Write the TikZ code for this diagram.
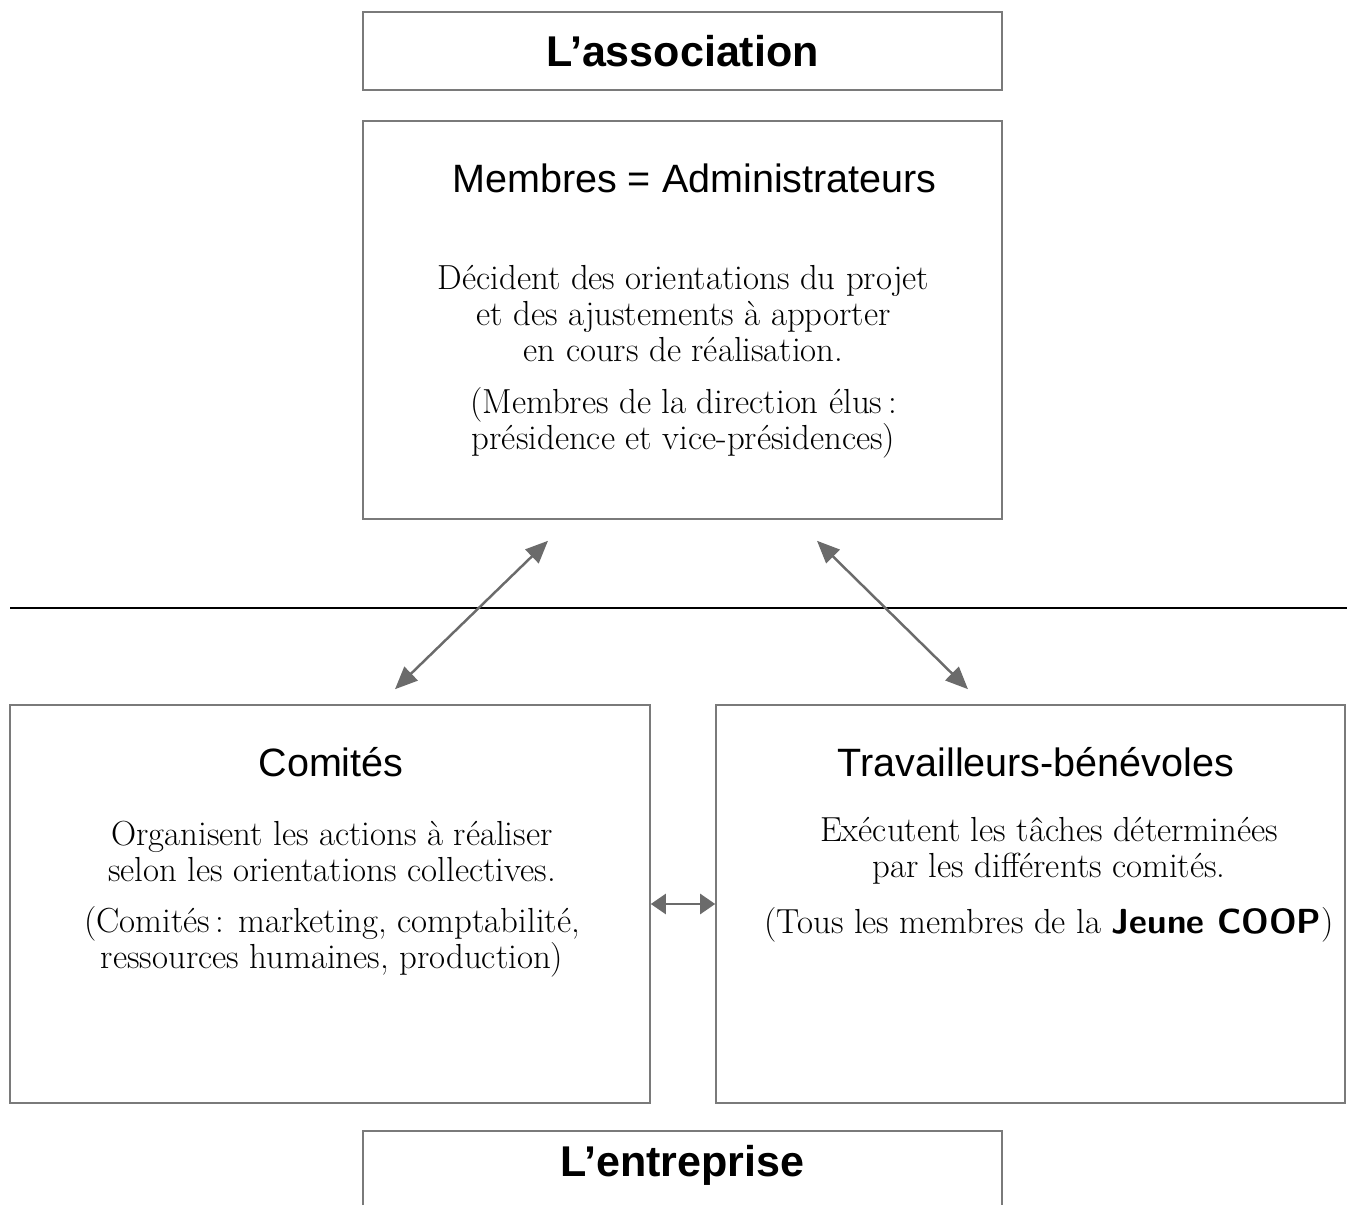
\documentclass[tikz,border=0pt]{standalone}
\usepackage{fontspec}
\newfontfamily\headfont{Liberation Sans}
\usetikzlibrary{arrows.meta,positioning,calc}
\definecolor{boxgray}{HTML}{7A7A7A}
\definecolor{arrowgray}{HTML}{6B6B6B}

\begin{document}
\begin{tikzpicture}[
  frame/.style={draw=boxgray, line width=0.9pt, minimum width=12.78cm, inner sep=0pt},
  title/.style={font=\headfont\fontsize{22.5}{26}\selectfont},
  bigtitle/.style={font=\headfont\bfseries\fontsize{24.5}{28}\selectfont},
  body/.style={align=center, font=\fontsize{19.8}{20.5}\selectfont},
  link/.style={draw=arrowgray, line width=1.4pt,
               {Triangle[length=0.45cm,width=0.38cm]}-{Triangle[length=0.45cm,width=0.38cm]}},
  shortlink/.style={draw=arrowgray, line width=1.4pt,
               {Triangle[length=0.3cm,width=0.4cm]}-{Triangle[length=0.3cm,width=0.4cm]}}
]
\useasboundingbox (0,0) rectangle (26.94,24.1);

% association side
\node[frame, bigtitle, minimum height=1.56cm] (assoc) at (13.65,23.08) {L’association};
\node[frame, minimum height=7.96cm] (membres) at (13.65,17.70) {};
\node[title] (membresT) at (13.89,20.54) {Membres = Administrateurs};
\node[body] (membresA) at (13.67,17.82) {
  Décident des orientations du projet\\
  et des ajustements à apporter\\
  en cours de réalisation.};
\node[body] (membresB) at (13.67,15.64) {
  (Membres de la direction élus\,:\\
  présidence et vice-présidences)};

% separation line
\coordinate (sepL) at (0.2,11.94);
\coordinate (sepR) at (26.94,11.94);
\draw[line width=1.7pt] (sepL) -- (sepR);

% entreprise side
\node[frame, minimum width=12.8cm, minimum height=7.96cm] (comites) at (6.6,6.02) {};
\node[title] (comitesT) at (6.62,8.86) {Comités};
\node[body] (comitesA) at (6.64,7.08) {
  Organisent les actions à réaliser\\
  selon les orientations collectives.};
\node[body] (comitesB) at (6.64,5.26) {
  (Comités\,: marketing, comptabilité,\\
  ressources humaines, production)};

\node[frame, minimum width=12.58cm, minimum height=7.96cm] (trav) at (20.61,6.02) {};
\node[title] (travT) at (20.72,8.86) {Travailleurs-bénévoles};
\node[body] (travA) at (20.98,7.08) {
  Exécutent les tâches déterminées\\
  par les différents comités.};
\node[body] (travB) at (20.98,5.6) {
  (Tous les membres de la {\sffamily\bfseries Jeune COOP})};

\draw[boxgray, line width=0.9pt] (7.26,0) |- (20.04,1.48) -- (20.04,0);
\node[bigtitle] (entreprise) at (13.65,0.8) {L’entreprise};

% links
\coordinate (mL) at ($(membres.south)+(-2.69,-0.42)$);
\coordinate (mR) at ($(membres.south)+(2.69,-0.42)$);
\coordinate (cT) at ($(comites.north)+(1.3,0.3)$);
\coordinate (tT) at ($(trav.north)+(-1.25,0.3)$);
\draw[link] (mL) -- (cT);
\draw[link] (mR) -- (tT);
\draw[shortlink] (comites.east) -- (trav.west);
\end{tikzpicture}
\end{document}
